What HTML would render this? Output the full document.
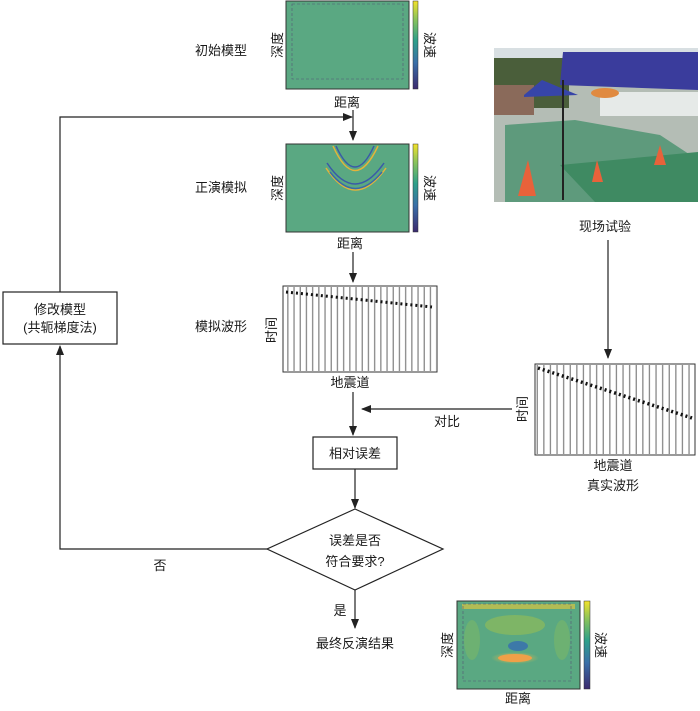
<!DOCTYPE html>
<html><head><meta charset="utf-8"><style>
body{margin:0;background:#fff}
svg text{font-family:"Liberation Sans","Noto Sans CJK SC",sans-serif;font-size:13px;fill:#1a1a1a}
</style></head><body>
<svg width="700" height="706" viewBox="0 0 700 706" xmlns="http://www.w3.org/2000/svg">
<defs>
<linearGradient id="cb" x1="0" y1="1" x2="0" y2="0">
<stop offset="0" stop-color="#3b2a6e"/><stop offset="0.3" stop-color="#3a6fa8"/><stop offset="0.55" stop-color="#2ea08a"/><stop offset="0.8" stop-color="#8dc45a"/><stop offset="1" stop-color="#f2e22a"/></linearGradient>
<pattern id="tr" width="6.2" height="10" patternUnits="userSpaceOnUse"><rect x="2" y="0" width="1.3" height="10" fill="#888"/></pattern>
<pattern id="tr2" width="6.6" height="10" patternUnits="userSpaceOnUse"><rect x="2" y="0" width="1.3" height="10" fill="#888"/></pattern>
<marker id="ar" markerWidth="10" markerHeight="8" refX="9" refY="4" orient="auto" markerUnits="userSpaceOnUse"><path d="M0,0 L10,4 L0,8 Z" fill="#222"/></marker>
<radialGradient id="hot" cx="0.5" cy="0.5" r="0.5"><stop offset="0" stop-color="#f4a54a"/><stop offset="1" stop-color="#e9c24a" stop-opacity="0"/></radialGradient>
</defs>
<rect x="286" y="1" width="123" height="88" fill="#5aa882" stroke="#333"/>
<rect x="292" y="4" width="111" height="75" fill="none" stroke="#557" stroke-dasharray="3,2" stroke-width="0.6"/>
<rect x="413" y="1" width="5" height="88" fill="url(#cb)" stroke="#333" stroke-width="0.5"/>
<text x="282" y="45" transform="rotate(-90 282 45)" text-anchor="middle">深度</text>
<text x="425" y="45" transform="rotate(90 425 45)" text-anchor="middle">波速</text>
<text x="347" y="107" text-anchor="middle">距离</text>
<text x="195" y="55">初始模型</text>
<rect x="286" y="144" width="123" height="88" fill="#5aa882" stroke="#333"/>
<g fill="none" stroke-width="1.5">
<path d="M333,146 Q355,195 378,146" stroke="#e3b43a"/><path d="M336,146 Q355,188 374,146" stroke="#3a5aa8"/>
<path d="M327,163 Q355,205 384,163" stroke="#3a5aa8"/><path d="M326,168 Q355,212 386,168" stroke="#e3b43a"/>
<path d="M330,172 Q355,205 382,172" stroke="#3a6aa8"/>
</g>
<rect x="413" y="144" width="5" height="88" fill="url(#cb)" stroke="#333" stroke-width="0.5"/>
<text x="282" y="188" transform="rotate(-90 282 188)" text-anchor="middle">深度</text>
<text x="425" y="188" transform="rotate(90 425 188)" text-anchor="middle">波速</text>
<text x="350" y="248" text-anchor="middle">距离</text>
<text x="195" y="192">正演模拟</text>
<rect x="283" y="286" width="154" height="86" fill="#fff" stroke="#333"/>
<rect x="284" y="287" width="152" height="84" fill="url(#tr)"/>
<path d="M286,292 L432,307" stroke="#111" stroke-width="3" stroke-dasharray="2,3"/>
<text x="276" y="330" transform="rotate(-90 276 330)" text-anchor="middle">时间</text>
<text x="350" y="387" text-anchor="middle">地震道</text>
<text x="195" y="331">模拟波形</text>
<rect x="535" y="364" width="160" height="91" fill="#fff" stroke="#333"/>
<rect x="536" y="365" width="158" height="89" fill="url(#tr2)"/>
<path d="M538,368 L692,418" stroke="#111" stroke-width="3.5" stroke-dasharray="2,3"/>
<text x="527" y="409" transform="rotate(-90 527 409)" text-anchor="middle">时间</text>
<text x="613" y="470" text-anchor="middle">地震道</text>
<text x="613" y="490" text-anchor="middle">真实波形</text>
<!-- photo -->
<rect x="494" y="48" width="204" height="154" fill="#b4bdb5"/>
<rect x="494" y="48" width="204" height="30" fill="#d8dfe2"/>
<rect x="494" y="58" width="75" height="50" fill="#4a5e3a"/>
<rect x="494" y="85" width="40" height="30" fill="#8a6a5a"/>
<rect x="600" y="92" width="98" height="24" fill="#e6eae8"/>
<polygon points="505,125 575,120 660,135 698,160 698,202 505,202" fill="#5e9a7c"/>
<polygon points="560,165 698,152 698,202 595,202" fill="#3f8a62"/>
<polygon points="563,52 698,52 698,90 560,85" fill="#3a3c9c"/>
<polygon points="524,95 542,80 578,95 524,97" fill="#3745a8"/>
<rect x="562" y="80" width="2" height="120" fill="#222"/>
<polygon points="518,196 528,160 536,196" fill="#e8623a"/>
<polygon points="592,182 597,160 603,182" fill="#e8623a"/>
<polygon points="654,165 660,145 666,165" fill="#e8623a"/>
<ellipse cx="605" cy="93" rx="14" ry="5" fill="#e08a40"/>
<text x="605" y="231" text-anchor="middle">现场试验</text>
<rect x="457" y="601" width="123" height="88" fill="#5aa882" stroke="#333"/>
<rect x="462" y="604" width="113" height="5" fill="#c8c04a" opacity="0.8"/>
<ellipse cx="515" cy="625" rx="30" ry="10" fill="#8dba5a" opacity="0.7"/>
<ellipse cx="518" cy="646" rx="10" ry="5" fill="#3d79a8"/>
<ellipse cx="515" cy="658" rx="24" ry="6" fill="url(#hot)"/>
<ellipse cx="515" cy="658" rx="17" ry="4" fill="#f0a048"/>
<ellipse cx="472" cy="640" rx="8" ry="20" fill="#7ab868" opacity="0.6"/>
<ellipse cx="562" cy="640" rx="8" ry="20" fill="#7ab868" opacity="0.6"/>
<rect x="463" y="604" width="108" height="77" fill="none" stroke="#557" stroke-dasharray="3,2" stroke-width="0.6"/>
<rect x="584" y="601" width="6" height="88" fill="url(#cb)" stroke="#333" stroke-width="0.5"/>
<text x="452" y="645" transform="rotate(-90 452 645)" text-anchor="middle">深度</text>
<text x="596" y="645" transform="rotate(90 596 645)" text-anchor="middle">波速</text>
<text x="518" y="703" text-anchor="middle">距离</text>
<g stroke="#222" stroke-width="1.2" fill="none">
<path d="M60,292 L60,117 L352,117" marker-end="url(#ar)"/>
<path d="M353,110 L353,140" marker-end="url(#ar)"/>
<path d="M353,252 L353,282" marker-end="url(#ar)"/>
<path d="M353,392 L353,435" marker-end="url(#ar)"/>
<path d="M512,409 L362,409" marker-end="url(#ar)"/>
<path d="M608,240 L608,358" marker-end="url(#ar)"/>
<path d="M355,469 L355,508" marker-end="url(#ar)"/>
<path d="M355,590 L355,628" marker-end="url(#ar)"/>
<path d="M267,549 L60,549 L60,346" marker-end="url(#ar)"/>
<rect x="3" y="292" width="114" height="52" fill="#fff"/>
<rect x="313" y="437" width="84" height="32" fill="#fff"/>
<polygon points="355,509 443,549 355,590 267,549" fill="#fff"/>
</g>
<text x="60" y="314" text-anchor="middle">修改模型</text>
<text x="60" y="332" text-anchor="middle">(共轭梯度法)</text>
<text x="355" y="458" text-anchor="middle">相对误差</text>
<text x="355" y="545" text-anchor="middle">误差是否</text>
<text x="355" y="566" text-anchor="middle">符合要求?</text>
<text x="447" y="426" text-anchor="middle">对比</text>
<text x="160" y="570" text-anchor="middle">否</text>
<text x="340" y="615" text-anchor="middle">是</text>
<text x="355" y="648" text-anchor="middle">最终反演结果</text>
</svg>
</body></html>
